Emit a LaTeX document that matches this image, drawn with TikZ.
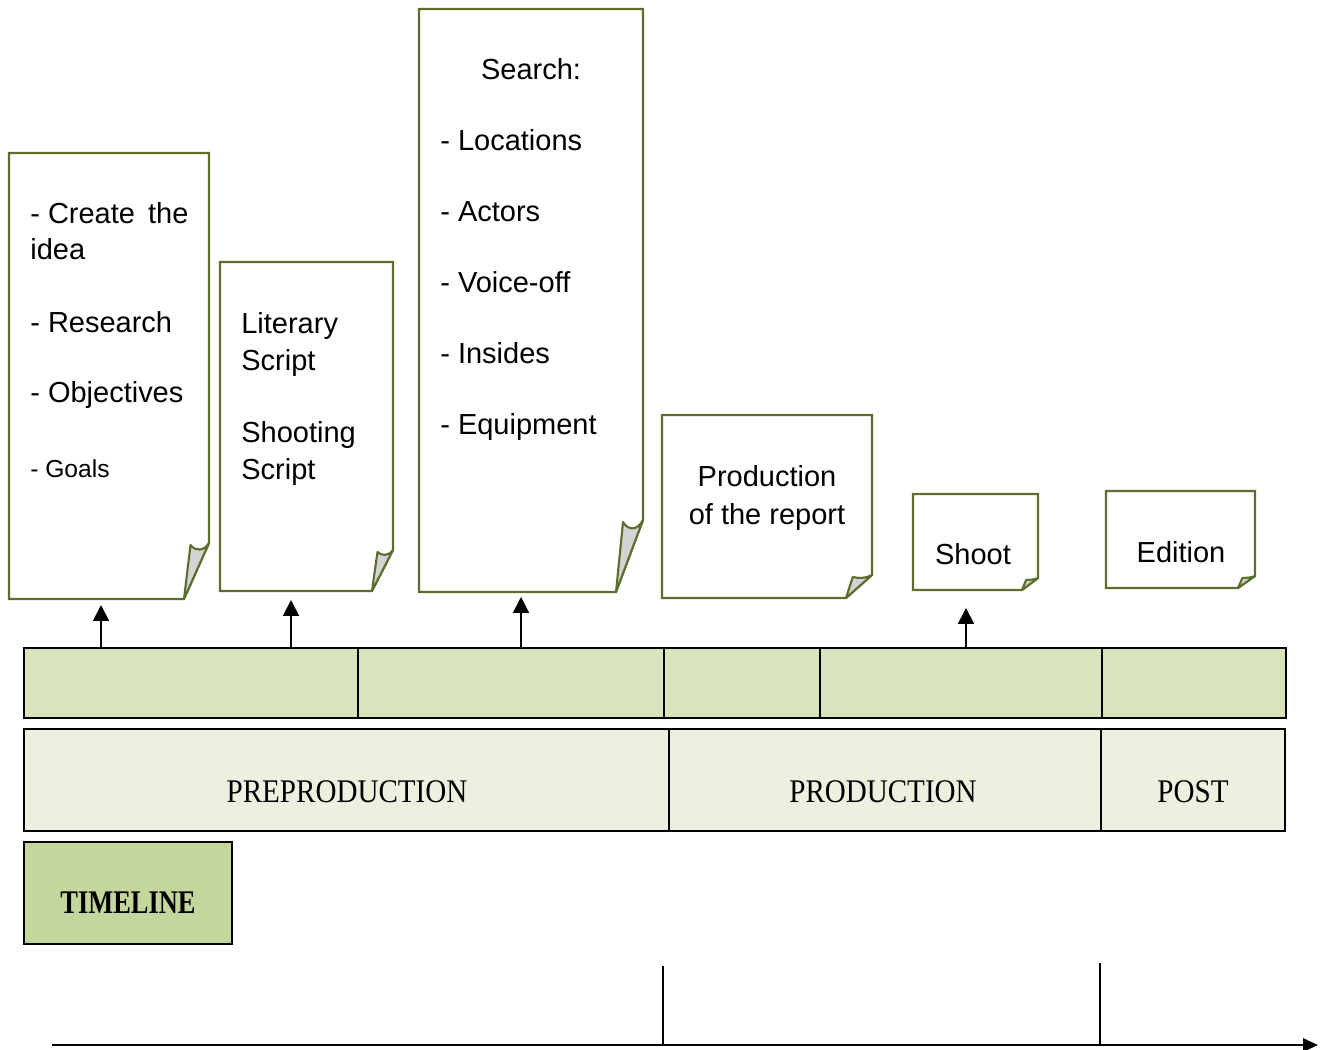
\documentclass[tikz,border=0pt]{standalone}
\usepackage{fontspec}
\setmainfont{Liberation Sans}
\newfontfamily\phasefont{Liberation Serif}
\usetikzlibrary{arrows.meta,positioning}

\definecolor{noteline}{HTML}{5B6E2E}
\definecolor{flapgray}{HTML}{D3D3D3}
\definecolor{cellgreen}{HTML}{D8E4BC}
\definecolor{phasegreen}{HTML}{EBF1DE}
\definecolor{timegreen}{HTML}{C3D69B}

% paper note with a curled corner: left, top, right, bottom, fold width, fold height
\newcommand{\foldnote}[6]{%
  \draw[noteline, line width=1.2pt, fill=white]
    (#1,#2) -- (#3,#2) -- (#3,#4-#6) -- (#3-#5,#4) -- (#1,#4) -- cycle;
  \draw[noteline, line width=1.2pt, fill=flapgray, line join=round]
    (#3-#5,#4) -- (#3-0.74*#5,#4-#6+2)
    .. controls (#3-0.55*#5,#4-0.85*#6) and (#3-0.2*#5,#4-0.85*#6) .. (#3,#4-#6) -- cycle;
}
\newcommand{\phasetext}[1]{\scalebox{0.88}[1]{#1}}

\tikzset{
  notetext/.style={inner sep=0pt, align=left, font=\fontsize{16.5}{20.5}\selectfont},
  cell/.style={draw, line width=1.1pt, fill=cellgreen, minimum height=1.4cm, inner sep=0pt},
  phase/.style={draw, line width=1.1pt, fill=phasegreen, minimum height=2.04cm, inner sep=0pt},
  phaselabel/.style={anchor=base, inner sep=0pt, font=\phasefont\fontsize{18.8}{22}\selectfont},
  uparrow/.style={line width=1.1pt, -{Triangle[width=9pt,length=9pt]}},
}

\begin{document}
\begin{tikzpicture}[x=0.02cm, y=-0.02cm]
  \useasboundingbox (0,0) rectangle (1327,1050);

  % notes
  \foldnote{9}{153}{209}{599}{25}{56}
  \foldnote{220}{262}{393}{591}{21}{41}
  \foldnote{419}{9}{643}{592}{27}{72}
  \foldnote{662}{415}{872}{598}{26}{23}
  \foldnote{913}{494}{1038}{590}{16}{12}
  \foldnote{1106}{491}{1255}{588}{17}{12}

  \node[notetext, anchor=north west] (idea) at (30,202)
    {- Create\hspace{0.45em}the\\idea\\[0.74cm]- Research\\[0.68cm]- Objectives\\[0.78cm]{\fontsize{14}{20.5}\selectfont - Goals}};
  \node[notetext, anchor=north west, font=\fontsize{16.5}{21}\selectfont] (script) at (241,312)
    {Literary\\Script\\[0.7cm]Shooting\\Script};
  \node[notetext, anchor=base] (search) at (531,80) {Search:};
  \node[notetext, anchor=north west, font=\fontsize{16.5}{40.4}\selectfont] (searchlist) at (440,129)
    {- Locations\\- Actors\\- Voice-off\\- Insides\\- Equipment};
  \node[notetext, anchor=north, align=center, font=\fontsize{16.5}{21.6}\selectfont] (report) at (767,465)
    {Production\\of the report};
  \node[notetext, anchor=base] (shoot) at (973,564) {Shoot};
  \node[notetext, anchor=base] (edition) at (1181,562) {Edition};

  % task bar
  \node[cell, minimum width=6.68cm] (prep1) at (191,683) {};
  \node[cell, minimum width=6.12cm] (prep2) at (511,683) {};
  \node[cell, minimum width=3.12cm] (prod1) at (742,683) {};
  \node[cell, minimum width=5.64cm] (prod2) at (961,683) {};
  \node[cell, minimum width=3.68cm] (post1) at (1194,683) {};

  % phases
  \node[phase, minimum width=12.9cm] (preproduction) at (346.5,780) {};
  \node[phase, minimum width=8.64cm] (production) at (885,780) {};
  \node[phase, minimum width=3.68cm] (post) at (1193,780) {};
  \node[phaselabel] (preprodlabel) at (347,802) {\phasetext{PREPRODUCTION}};
  \node[phaselabel] (prodlabel) at (883,802) {\phasetext{PRODUCTION}};
  \node[phaselabel] (postlabel) at (1193,802) {\phasetext{POST}};

  \node[draw, line width=1.1pt, fill=timegreen, minimum width=4.16cm, minimum height=2.04cm] (timeline) at (128,893) {};
  \node[phaselabel, font=\phasefont\bfseries\fontsize{18.8}{22}\selectfont] (timelinelabel) at (128,913)
    {\scalebox{0.8}[1]{TIMELINE}};

  % arrows up to the notes
  \coordinate (up1) at (101,605);
  \coordinate (up2) at (291,600);
  \coordinate (up3) at (521,597);
  \coordinate (up4) at (966,608);
  \draw[uparrow] (prep1.north -| up1) -- (up1);
  \draw[uparrow] (prep1.north -| up2) -- (up2);
  \draw[uparrow] (prep2.north -| up3) -- (up3);
  \draw[uparrow] (prod2.north -| up4) -- (up4);

  % time axis
  \coordinate (axisstart) at (52,1045);
  \coordinate (axisend) at (1318,1045);
  \coordinate (tick1) at (663,966);
  \coordinate (tick2) at (1100,963);
  \draw[line width=1.2pt, -{Triangle[width=7.5pt,length=8.5pt]}] (axisstart) -- (axisend);
  \draw[line width=1.1pt] (tick1) -- (tick1 |- axisstart);
  \draw[line width=1.1pt] (tick2) -- (tick2 |- axisstart);
\end{tikzpicture}
\end{document}
